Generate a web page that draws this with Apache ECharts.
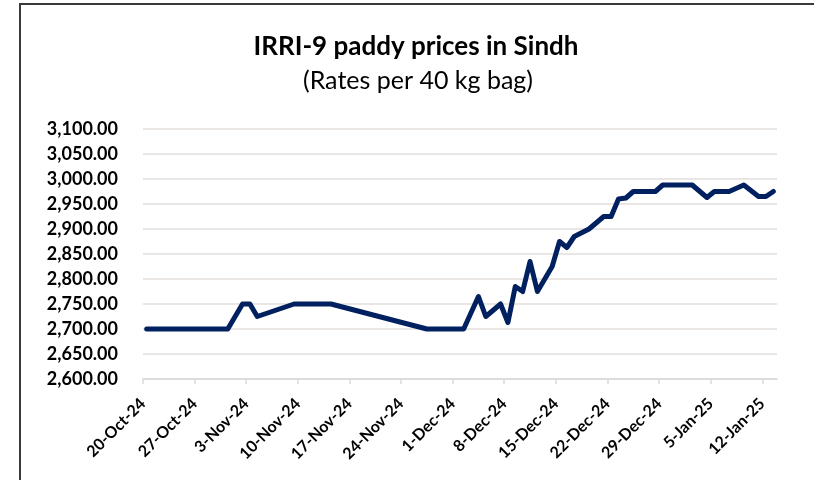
<!DOCTYPE html>
<html>
<head>
<meta charset="utf-8">
<script src="https://cdn.jsdelivr.net/npm/echarts@6/dist/echarts.min.js"></script>
<style>
  html, body { margin: 0; padding: 0; background: #fff; }
  #chart { width: 814px; height: 480px; }
</style>
</head>
<body>
<div id="chart"></div>
<script>
// IRRI-9 paddy, Sindh - rates per 40 kg bag
const startDate = '2024-10-20'
const endDate = '2025-01-14'
const tickDates = ['2024-10-20', '2024-10-27', '2024-11-03', '2024-11-10', '2024-11-17', '2024-11-24',
  '2024-12-01', '2024-12-08', '2024-12-15', '2024-12-22', '2024-12-29', '2025-01-05', '2025-01-12']
const priceDates = ['2024-10-20', '2024-10-31', '2024-11-02', '2024-11-03', '2024-11-04', '2024-11-09',
  '2024-11-14', '2024-11-27', '2024-12-02', '2024-12-04', '2024-12-05', '2024-12-07', '2024-12-08',
  '2024-12-09', '2024-12-10', '2024-12-11', '2024-12-12', '2024-12-14', '2024-12-15', '2024-12-16',
  '2024-12-17', '2024-12-19', '2024-12-21', '2024-12-22', '2024-12-23', '2024-12-24', '2024-12-25',
  '2024-12-28', '2024-12-29', '2025-01-02', '2025-01-04', '2025-01-05', '2025-01-07', '2025-01-09',
  '2025-01-11', '2025-01-12', '2025-01-13']
const prices = [2700, 2700, 2750, 2750, 2725, 2750,
  2750, 2700, 2700, 2765, 2725, 2750, 2713,
  2785, 2775, 2835, 2775, 2825, 2875, 2863,
  2885, 2900, 2925, 2925, 2960, 2962, 2975,
  2975, 2988, 2988, 2963, 2975, 2975, 2988,
  2965, 2965, 2975]
const yMin = 2600
const yMax = 3100
const yStep = 50

const DAY = 86400000
const months = ['Jan', 'Feb', 'Mar', 'Apr', 'May', 'Jun', 'Jul', 'Aug', 'Sep', 'Oct', 'Nov', 'Dec']
const toMs = s => { const p = s.split('-'); return Date.UTC(+p[0], +p[1] - 1, +p[2]) }
const dayOf = s => Math.round((toMs(s) - toMs(startDate)) / DAY)
const fmtDate = d => {
  const dt = new Date(toMs(startDate) + d * DAY)
  return dt.getUTCDate() + '-' + months[dt.getUTCMonth()] + '-' + String(dt.getUTCFullYear()).slice(2)
}
const fmtNum = v => v.toLocaleString('en-US', { minimumFractionDigits: 2, maximumFractionDigits: 2 })

// points sit in the middle of each day slot, like the excel date axis
const seriesData = priceDates.map((d, i) => [dayOf(d) + 0.5, prices[i]])
const tickValues = tickDates.map(dayOf)

const font = 'Lato'
const myChart = echarts.init(document.getElementById('chart'))

myChart.setOption({
  animation: false,
  graphic: [
    { type: 'rect', shape: { x: 20, y: 4, width: 900, height: 600 }, style: { fill: 'none', stroke: '#3a3a3a', lineWidth: 2 } },
    { type: 'text', x: 416, y: 47, style: { text: 'IRRI-9 paddy prices in Sindh', fontFamily: font, fontWeight: 'bold', fontSize: 26, fill: '#000', align: 'center', verticalAlign: 'middle' } },
    { type: 'text', x: 418, y: 81, style: { text: '(Rates per 40 kg bag)', fontFamily: font, fontSize: 25, fill: '#000', align: 'center', verticalAlign: 'middle' } }
  ],
  grid: { left: 143, right: 37, top: 129, bottom: 101 },
  xAxis: {
    type: 'value',
    min: 0,
    max: dayOf(endDate),
    splitLine: { show: false },
    axisLine: { lineStyle: { color: '#d9d9d9', width: 1.5 } },
    axisTick: { show: true, customValues: tickValues, length: 5, lineStyle: { color: '#d9d9d9', width: 1.5 } },
    axisLabel: {
      customValues: tickValues,
      rotate: 45,
      margin: 22,
      color: '#000',
      fontFamily: font,
      fontWeight: 'bold',
      fontSize: 16,
      formatter: v => fmtDate(v)
    }
  },
  yAxis: {
    type: 'value',
    min: yMin,
    max: yMax,
    interval: yStep,
    axisLine: { show: false },
    axisTick: { show: false },
    splitLine: { lineStyle: { color: '#e2dedb', width: 1.5 } },
    axisLabel: {
      margin: 25,
      color: '#000',
      fontFamily: font,
      fontWeight: 'bold',
      fontSize: 18,
      formatter: v => fmtNum(v)
    }
  },
  series: [
    {
      name: 'IRRI-9',
      type: 'line',
      data: seriesData,
      showSymbol: false,
      lineStyle: { color: '#002060', width: 5, join: 'round', cap: 'round' },
      itemStyle: { color: '#002060' }
    }
  ]
})
</script>
</body>
</html>
